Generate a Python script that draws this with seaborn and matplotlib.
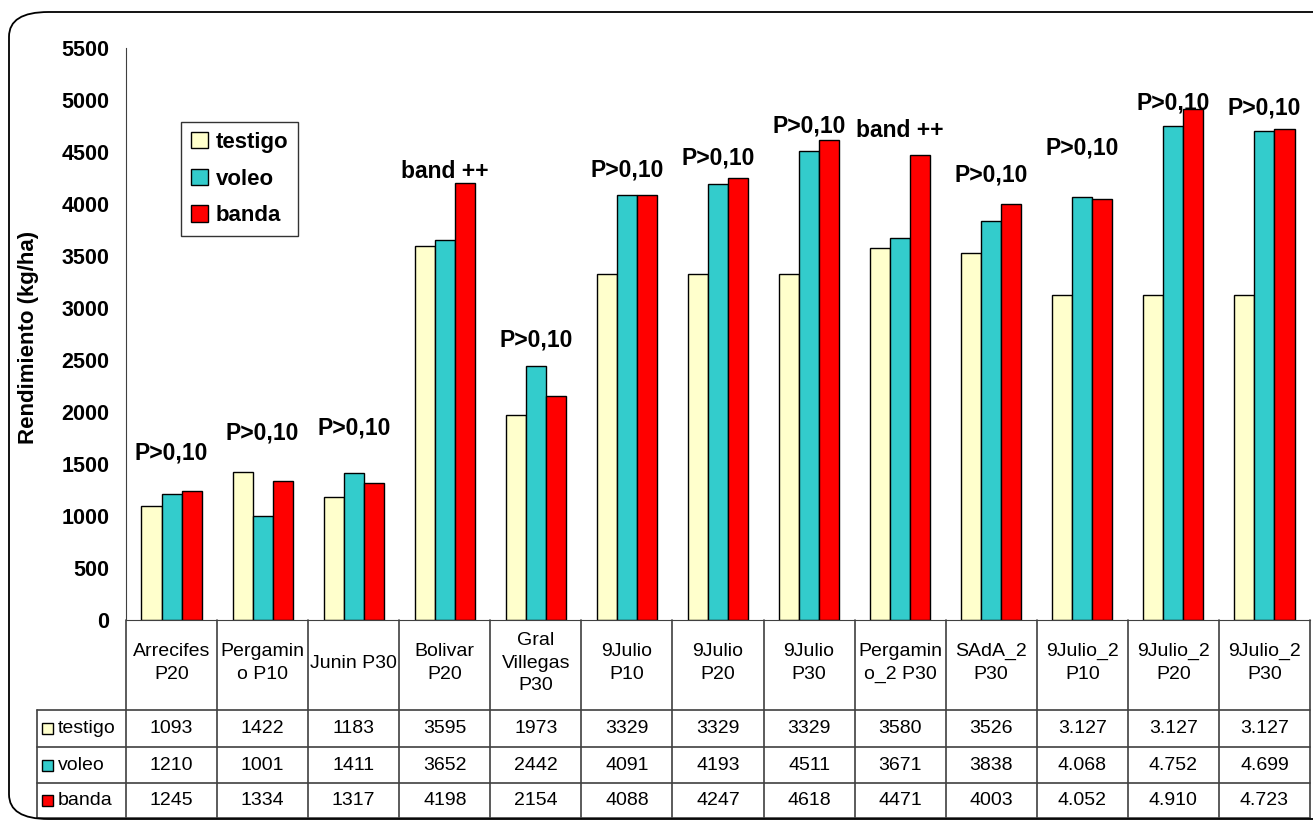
import matplotlib
matplotlib.use("Agg")

import matplotlib.pyplot as plt
from matplotlib.patches import FancyBboxPatch, Rectangle
import seaborn as sns
import pandas as pd

# Data
sites = ["Arrecifes P20", "Pergamino P10", "Junin P30", "Bolivar P20", "Gral Villegas P30",
         "9Julio P10", "9Julio P20", "9Julio P30", "Pergamino_2 P30", "SAdA_2 P30",
         "9Julio_2 P10", "9Julio_2 P20", "9Julio_2 P30"]
header_labels = ["Arrecifes\nP20", "Pergamin\no P10", "Junin P30", "Bolivar\nP20",
                 "Gral\nVillegas\nP30", "9Julio\nP10", "9Julio\nP20", "9Julio\nP30",
                 "Pergamin\no_2 P30", "SAdA_2\nP30", "9Julio_2\nP10", "9Julio_2\nP20",
                 "9Julio_2\nP30"]
series = ["testigo", "voleo", "banda"]
testigo = [1093, 1422, 1183, 3595, 1973, 3329, 3329, 3329, 3580, 3526, 3127, 3127, 3127]
voleo = [1210, 1001, 1411, 3652, 2442, 4091, 4193, 4511, 3671, 3838, 4068, 4752, 4699]
banda = [1245, 1334, 1317, 4198, 2154, 4088, 4247, 4618, 4471, 4003, 4052, 4910, 4723]
testigo_txt = ["1093", "1422", "1183", "3595", "1973", "3329", "3329", "3329", "3580", "3526",
               "3.127", "3.127", "3.127"]
voleo_txt = ["1210", "1001", "1411", "3652", "2442", "4091", "4193", "4511", "3671", "3838",
             "4.068", "4.752", "4.699"]
banda_txt = ["1245", "1334", "1317", "4198", "2154", "4088", "4247", "4618", "4471", "4003",
             "4.052", "4.910", "4.723"]
notes = ["P>0,10", "P>0,10", "P>0,10", "band ++", "P>0,10", "P>0,10", "P>0,10", "P>0,10",
         "band ++", "P>0,10", "P>0,10", "P>0,10", "P>0,10"]
note_y = [1606, 1798, 1846, 4308, 2692, 4327, 4442, 4750, 4711, 4279, 4538, 4971, 4923]
yticks = list(range(0, 5501, 500))
colors = ["#FFFFCC", "#33CCCC", "#FF0000"]

df = pd.DataFrame({
    "sitio": sites * 3,
    "trat": [s for s in series for _ in sites],
    "rend": testigo + voleo + banda,
})

sns.set_style("white")
plt.rcParams["font.family"] = ["Liberation Sans", "DejaVu Sans"]
plt.rcParams["text.color"] = "black"
plt.rcParams["ytick.color"] = "black"

W, H = 1313, 823
fig = plt.figure(figsize=(W / 100, H / 100), dpi=100)

# Rounded frame
frame = FancyBboxPatch((9 / W, 4 / H), (W + 40) / W, (H - 16) / H,
                       boxstyle="round,pad=0,rounding_size=0.03",
                       transform=fig.transFigure, fill=False, lw=1.3, ec="black")
fig.patches.append(frame)

x0, x1 = 126, 1310
ytop, ybot = 48, 620
ax = fig.add_axes([x0 / W, (H - ybot) / H, (x1 - x0) / W, (ybot - ytop) / H])

sns.barplot(data=df, x="sitio", y="rend", hue="trat", order=sites, hue_order=series,
            palette=colors, saturation=1, width=0.66, edgecolor="black", linewidth=1, ax=ax)

ax.set_xlim(-0.5, 12.5)
ax.set_ylim(0, 5500)
ax.set_yticks(yticks)
ax.set_yticklabels([str(t) for t in yticks], fontsize=15.5, fontweight="bold")
ax.tick_params(axis="y", direction="out", length=6, width=1, color="#404040", pad=6)
ax.tick_params(axis="x", bottom=False, labelbottom=False)
ax.set_xlabel("")
ax.set_ylabel("")
for s in ["top", "right"]:
    ax.spines[s].set_visible(False)
ax.spines["left"].set_color("#404040")
ax.spines["bottom"].set_color("#404040")
ax.patch.set_alpha(0)

fig.text(29 / W, (H - 337) / H, "Rendimiento (kg/ha)", rotation=90, ha="center",
         va="center", fontsize=16, fontweight="bold")

for i, (txt, yv) in enumerate(zip(notes, note_y)):
    ax.text(i, yv, txt, ha="center", va="center", fontsize=16.5, fontweight="bold")

handles, labels = ax.get_legend_handles_labels()
leg = ax.legend(handles, labels, loc="upper left", bbox_to_anchor=(0.0465, 0.8706),
                borderaxespad=0, frameon=True, fancybox=False, edgecolor="black",
                prop={"weight": "bold", "size": 16}, handlelength=0.75, handleheight=0.75,
                handletextpad=0.35, labelspacing=0.7, borderpad=0.45)
leg.get_frame().set_linewidth(1)

# Data table below
tl = 37
tb = 818
tax = fig.add_axes([tl / W, (H - tb) / H, (x1 - tl) / W, (tb - ybot) / H])
xleft = -0.5 - (x0 - tl) / 91.07
tax.set_xlim(xleft, 12.5)
tax.set_ylim(tb - ybot, 0)
tax.axis("off")

rows = [0, 90, 127, 163, 198]
lc = "#404040"
for k in range(14):
    tax.plot([k - 0.5, k - 0.5], [0, 198], color=lc, lw=1.2, clip_on=False)
tax.plot([xleft, xleft], [90, 198], color=lc, lw=1.2, clip_on=False)
for r in rows[1:]:
    tax.plot([xleft, 12.5], [r, r], color=lc, lw=1.2, clip_on=False)

for i, lab in enumerate(header_labels):
    tax.text(i, 43, lab, ha="center", va="center", fontsize=14, linespacing=1.45)

row_txt = [testigo_txt, voleo_txt, banda_txt]
for r, (name, vals, c) in enumerate(zip(series, row_txt, colors)):
    yc = (rows[r + 1] + rows[r + 2]) / 2
    tax.add_patch(Rectangle((xleft + 0.06, yc - 5.5), 0.12, 11, fc=c, ec="black",
                            lw=1, clip_on=False))
    tax.text(xleft + 0.23, yc, name, ha="left", va="center", fontsize=14)
    for i, v in enumerate(vals):
        tax.text(i, yc, v, ha="center", va="center", fontsize=14)

plt.savefig("out.png", dpi=100)
plt.close()
